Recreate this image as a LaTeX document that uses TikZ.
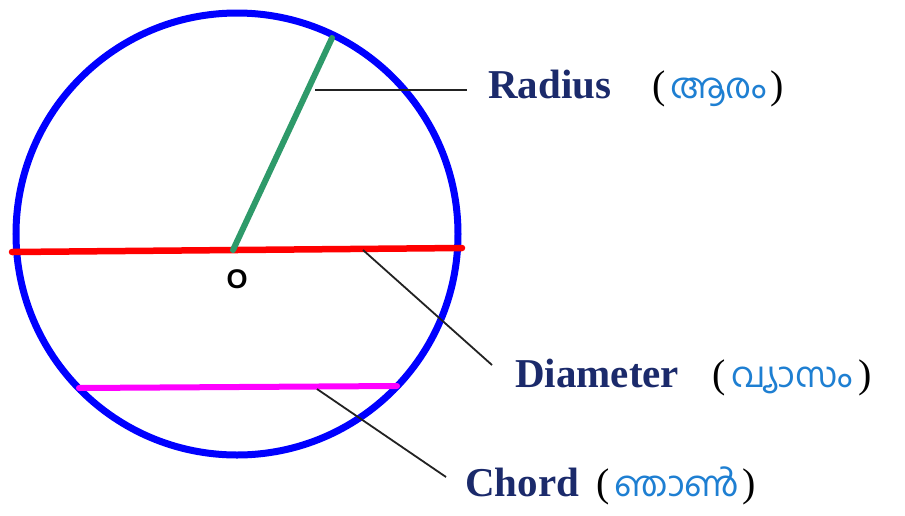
\documentclass[tikz,border=0pt]{standalone}
\usepackage{fontspec}
\setmainfont{Liberation Serif}
\newfontfamily\malfont[Script=Malayalam]{Hind Kochi}
\newfontfamily\osans[BoldFont={Liberation Sans Bold}]{Liberation Sans}
\definecolor{navy}{HTML}{1B2A6B}
\definecolor{malblue}{HTML}{1E7FD2}
\definecolor{rgreen}{HTML}{2E9A6A}
\definecolor{leadc}{HTML}{222222}
\definecolor{pmag}{HTML}{FF00FF}
\definecolor{pred}{HTML}{FF0000}
\definecolor{pblue}{HTML}{0000FF}
\begin{document}
\begin{tikzpicture}[x=1pt,y=-1pt,
  lbl/.style={anchor=base west, inner sep=0pt, text=navy, font=\fontsize{41}{41}\selectfont\bfseries},
  mal/.style={anchor=base west, inner sep=0pt, text=black, font=\fontsize{40}{40}\selectfont},
  leader/.style={draw=leadc, line width=1.8pt},
  seg/.style={line width=6.5pt, line cap=round}]
\useasboundingbox (0,0) rectangle (905,515);
\fill[white] (0,0) rectangle (905,515);
\newcommand{\mtext}[1]{\raisebox{0pt}[\height][0pt]{\textcolor{malblue}{\malfont\fontsize{35}{35}\selectfont #1}}}
% circle
\node[circle, draw=pblue, line width=7pt, minimum size=442pt, inner sep=0pt] (c) at (237,234) {};
% points
\coordinate (dL) at (12,252);
\coordinate (dR) at (462,248);
\coordinate (O) at (233,250);
\coordinate (rT) at (332,38);
\coordinate (chL) at (79,388);
\coordinate (chR) at (397,386);
% segments
\draw[seg, pred] (dL) -- (dR);
\draw[seg, rgreen, line width=6pt] (O) -- (rT);
\draw[seg, pmag, line width=6pt] (chL) -- (chR);
\node[inner sep=0pt, font=\osans\bfseries\fontsize{27}{27}\selectfont] (olbl) at (237,279) {O};
% labels
\node[lbl] (radius) at (488,98) {Radius};
\node[mal] (radiusm) at (652,98) {(\hspace{5pt}\mtext{ആരം}\hspace{3pt})};
\node[lbl] (diam) at (515,387) {Diameter};
\node[mal] (diamm) at (712,387) {(\hspace{6pt}\mtext{വ്യാസം}\hspace{6pt})};
\node[lbl] (chord) at (465,496) {Chord};
\node[mal] (chordm) at (596,496) {(\hspace{5pt}\mtext{ഞാൺ}\hspace{3pt})};
% leaders
\coordinate (rl1) at (315,90);
\coordinate (rl2) at (467,90);
\coordinate (dl1) at (363,250);
\coordinate (dl2) at (492,365);
\coordinate (cl1) at (317,389);
\coordinate (cl2) at (446,477);
\draw[leader] (rl1) -- (rl2);
\draw[leader] (dl1) -- (dl2);
\draw[leader] (cl1) -- (cl2);
\end{tikzpicture}
\end{document}
